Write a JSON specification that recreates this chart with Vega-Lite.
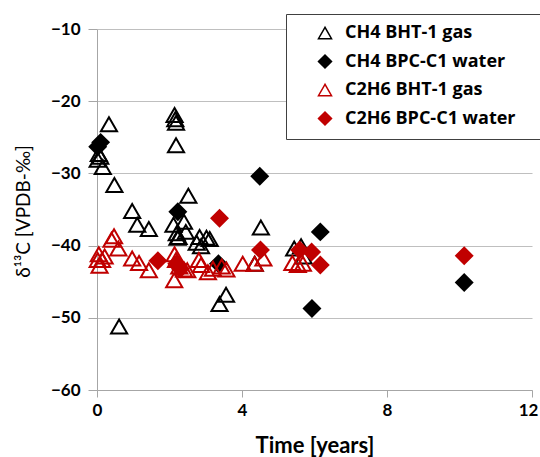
{
  "$schema": "https://vega.github.io/schema/vega-lite/v6.json",
  "width": 435,
  "height": 361,
  "autosize": {"type": "none"},
  "padding": {"left": 97, "top": 29, "right": 8, "bottom": 67},
  "background": "white",
  "config": {"view": {"stroke": null}, "font": "Lato"},
  "data": {
    "values": [
      {"s": "CH4 BHT-1 gas", "t": 0.02, "d": -28.1},
      {"s": "CH4 BHT-1 gas", "t": 0.09, "d": -27.7},
      {"s": "CH4 BHT-1 gas", "t": 0.05, "d": -27.3},
      {"s": "CH4 BHT-1 gas", "t": 0.16, "d": -29.1},
      {"s": "CH4 BHT-1 gas", "t": 0.33, "d": -23.2},
      {"s": "CH4 BHT-1 gas", "t": 0.48, "d": -31.6},
      {"s": "CH4 BHT-1 gas", "t": 0.61, "d": -51.2},
      {"s": "CH4 BHT-1 gas", "t": 0.97, "d": -35.2},
      {"s": "CH4 BHT-1 gas", "t": 1.11, "d": -37.1},
      {"s": "CH4 BHT-1 gas", "t": 1.43, "d": -37.7},
      {"s": "CH4 BHT-1 gas", "t": 2.14, "d": -21.9},
      {"s": "CH4 BHT-1 gas", "t": 2.16, "d": -22.5},
      {"s": "CH4 BHT-1 gas", "t": 2.18, "d": -23.0},
      {"s": "CH4 BHT-1 gas", "t": 2.18, "d": -26.1},
      {"s": "CH4 BHT-1 gas", "t": 2.52, "d": -33.1},
      {"s": "CH4 BHT-1 gas", "t": 2.11, "d": -37.1},
      {"s": "CH4 BHT-1 gas", "t": 2.2, "d": -38.3},
      {"s": "CH4 BHT-1 gas", "t": 2.25, "d": -38.8},
      {"s": "CH4 BHT-1 gas", "t": 2.4, "d": -36.7},
      {"s": "CH4 BHT-1 gas", "t": 2.45, "d": -38.1},
      {"s": "CH4 BHT-1 gas", "t": 2.22, "d": -38.9},
      {"s": "CH4 BHT-1 gas", "t": 2.83, "d": -38.8},
      {"s": "CH4 BHT-1 gas", "t": 2.87, "d": -40.1},
      {"s": "CH4 BHT-1 gas", "t": 3.02, "d": -38.9},
      {"s": "CH4 BHT-1 gas", "t": 3.11, "d": -39.1},
      {"s": "CH4 BHT-1 gas", "t": 2.75, "d": -39.6},
      {"s": "CH4 BHT-1 gas", "t": 3.38, "d": -48.1},
      {"s": "CH4 BHT-1 gas", "t": 3.56, "d": -46.8},
      {"s": "CH4 BHT-1 gas", "t": 4.35, "d": -42.5},
      {"s": "CH4 BHT-1 gas", "t": 4.52, "d": -37.5},
      {"s": "CH4 BHT-1 gas", "t": 5.44, "d": -40.4},
      {"s": "CH4 BHT-1 gas", "t": 5.63, "d": -40.1},
      {"s": "CH4 BHT-1 gas", "t": 5.7, "d": -41.5},
      {"s": "CH4 BPC-C1 water", "t": 0.02, "d": -26.3},
      {"s": "CH4 BPC-C1 water", "t": 0.1, "d": -25.7},
      {"s": "CH4 BPC-C1 water", "t": 2.23, "d": -35.3},
      {"s": "CH4 BPC-C1 water", "t": 3.35, "d": -42.5},
      {"s": "CH4 BPC-C1 water", "t": 4.49, "d": -30.4},
      {"s": "CH4 BPC-C1 water", "t": 6.16, "d": -38.1},
      {"s": "CH4 BPC-C1 water", "t": 5.93, "d": -48.7},
      {"s": "CH4 BPC-C1 water", "t": 10.13, "d": -45.1},
      {"s": "C2H6 BHT-1 gas", "t": 0.05, "d": -41.2},
      {"s": "C2H6 BHT-1 gas", "t": 0.07, "d": -42.8},
      {"s": "C2H6 BHT-1 gas", "t": 0.14, "d": -42.0},
      {"s": "C2H6 BHT-1 gas", "t": 0.21, "d": -41.5},
      {"s": "C2H6 BHT-1 gas", "t": 0.02, "d": -42.0},
      {"s": "C2H6 BHT-1 gas", "t": 0.4, "d": -39.2},
      {"s": "C2H6 BHT-1 gas", "t": 0.47, "d": -38.7},
      {"s": "C2H6 BHT-1 gas", "t": 0.59, "d": -40.4},
      {"s": "C2H6 BHT-1 gas", "t": 0.97, "d": -41.8},
      {"s": "C2H6 BHT-1 gas", "t": 1.16, "d": -42.4},
      {"s": "C2H6 BHT-1 gas", "t": 1.43, "d": -43.4},
      {"s": "C2H6 BHT-1 gas", "t": 2.14, "d": -41.2},
      {"s": "C2H6 BHT-1 gas", "t": 2.18, "d": -42.0},
      {"s": "C2H6 BHT-1 gas", "t": 2.13, "d": -44.8},
      {"s": "C2H6 BHT-1 gas", "t": 2.27, "d": -42.9},
      {"s": "C2H6 BHT-1 gas", "t": 2.4, "d": -43.3},
      {"s": "C2H6 BHT-1 gas", "t": 2.49, "d": -43.4},
      {"s": "C2H6 BHT-1 gas", "t": 2.81, "d": -42.0},
      {"s": "C2H6 BHT-1 gas", "t": 2.87, "d": -42.7},
      {"s": "C2H6 BHT-1 gas", "t": 3.06, "d": -43.7},
      {"s": "C2H6 BHT-1 gas", "t": 3.2, "d": -43.2},
      {"s": "C2H6 BHT-1 gas", "t": 3.44, "d": -42.9},
      {"s": "C2H6 BHT-1 gas", "t": 3.57, "d": -43.3},
      {"s": "C2H6 BHT-1 gas", "t": 4.02, "d": -42.5},
      {"s": "C2H6 BHT-1 gas", "t": 4.35, "d": -42.5},
      {"s": "C2H6 BHT-1 gas", "t": 4.59, "d": -41.8},
      {"s": "C2H6 BHT-1 gas", "t": 5.39, "d": -42.4},
      {"s": "C2H6 BHT-1 gas", "t": 5.54, "d": -42.7},
      {"s": "C2H6 BHT-1 gas", "t": 5.68, "d": -42.5},
      {"s": "C2H6 BPC-C1 water", "t": 1.68, "d": -42.1},
      {"s": "C2H6 BPC-C1 water", "t": 2.2, "d": -42.5},
      {"s": "C2H6 BPC-C1 water", "t": 2.3, "d": -43.2},
      {"s": "C2H6 BPC-C1 water", "t": 3.38, "d": -36.2},
      {"s": "C2H6 BPC-C1 water", "t": 4.51, "d": -40.6},
      {"s": "C2H6 BPC-C1 water", "t": 5.59, "d": -40.6},
      {"s": "C2H6 BPC-C1 water", "t": 5.92, "d": -40.9},
      {"s": "C2H6 BPC-C1 water", "t": 6.16, "d": -42.7},
      {"s": "C2H6 BPC-C1 water", "t": 10.13, "d": -41.4}
    ]
  },
  "mark": {"type": "point", "filled": true, "size": 260, "strokeWidth": 2, "opacity": 1},
  "encoding": {
    "x": {
      "field": "t",
      "type": "quantitative",
      "scale": {"domain": [0, 12], "nice": false, "zero": false},
      "axis": {
        "title": "Time [years]",
        "values": [0, 4, 8, 12],
        "grid": false,
        "domainColor": "#a6a6a6",
        "tickColor": "#a6a6a6",
        "tickSize": 7,
        "labelPadding": 5,
        "labelFont": "Lato",
        "labelFontSize": 17,
        "labelFontWeight": "bold",
        "labelColor": "#000000",
        "labelFlush": false,
        "labelOffset": {"condition": {"test": "datum.value == 12", "value": -4}, "value": 0},
        "titleFont": "Lato",
        "titleFontSize": 22,
        "titleFontWeight": "bold",
        "titleColor": "#000000",
        "titleBaseline": "middle",
        "titleY": 55
      }
    },
    "y": {
      "field": "d",
      "type": "quantitative",
      "scale": {"domain": [-60, -10], "nice": false, "zero": false},
      "axis": {
        "title": "δ¹³C [VPDB-‰]",
        "values": [-60, -50, -40, -30, -20, -10],
        "grid": true,
        "gridColor": "#bfbfbf",
        "gridWidth": 1,
        "domainColor": "#a6a6a6",
        "tickColor": "#a6a6a6",
        "tickSize": 9,
        "labelPadding": 8,
        "labelFont": "Lato",
        "labelFontSize": 17,
        "labelFontWeight": "bold",
        "labelColor": "#000000",
        "labelFlush": false,
        "titleFont": "Lato",
        "titleFontSize": 19,
        "titleFontWeight": "normal",
        "titleColor": "#000000",
        "titleAngle": 270,
        "titleBaseline": "middle",
        "titleAlign": "center",
        "titleX": -74,
        "titleY": 182
      }
    },
    "shape": {
      "field": "s",
      "type": "nominal",
      "scale": {
        "domain": ["CH4 BHT-1 gas", "CH4 BPC-C1 water", "C2H6 BHT-1 gas", "C2H6 BPC-C1 water"],
        "range": ["triangle-up", "diamond", "triangle-up", "diamond"]
      },
      "legend": {
        "title": null,
        "orient": "none",
        "legendX": 189,
        "legendY": -15,
        "padding": 10,
        "fillColor": "white",
        "strokeColor": "#404040",
        "symbolOffset": 20,
        "labelOffset": 11,
        "labelFont": "Open Sans",
        "labelFontSize": 18,
        "labelFontWeight": "bold",
        "labelColor": "#000000",
        "rowPadding": 9.5,
        "symbolSize": 170,
        "symbolStrokeWidth": 1.5,
        "labelLimit": 400,
        "labelExpr": "datum.label == 'C2H6 BPC-C1 water' ? datum.label + '\u2800\u2800' : datum.label"
      }
    },
    "fill": {
      "field": "s",
      "type": "nominal",
      "scale": {
        "domain": ["CH4 BHT-1 gas", "CH4 BPC-C1 water", "C2H6 BHT-1 gas", "C2H6 BPC-C1 water"],
        "range": ["transparent", "#000000", "transparent", "#c00000"]
      }
    },
    "stroke": {
      "field": "s",
      "type": "nominal",
      "scale": {
        "domain": ["CH4 BHT-1 gas", "CH4 BPC-C1 water", "C2H6 BHT-1 gas", "C2H6 BPC-C1 water"],
        "range": ["#000000", "#000000", "#c00000", "#c00000"]
      }
    }
  }
}
